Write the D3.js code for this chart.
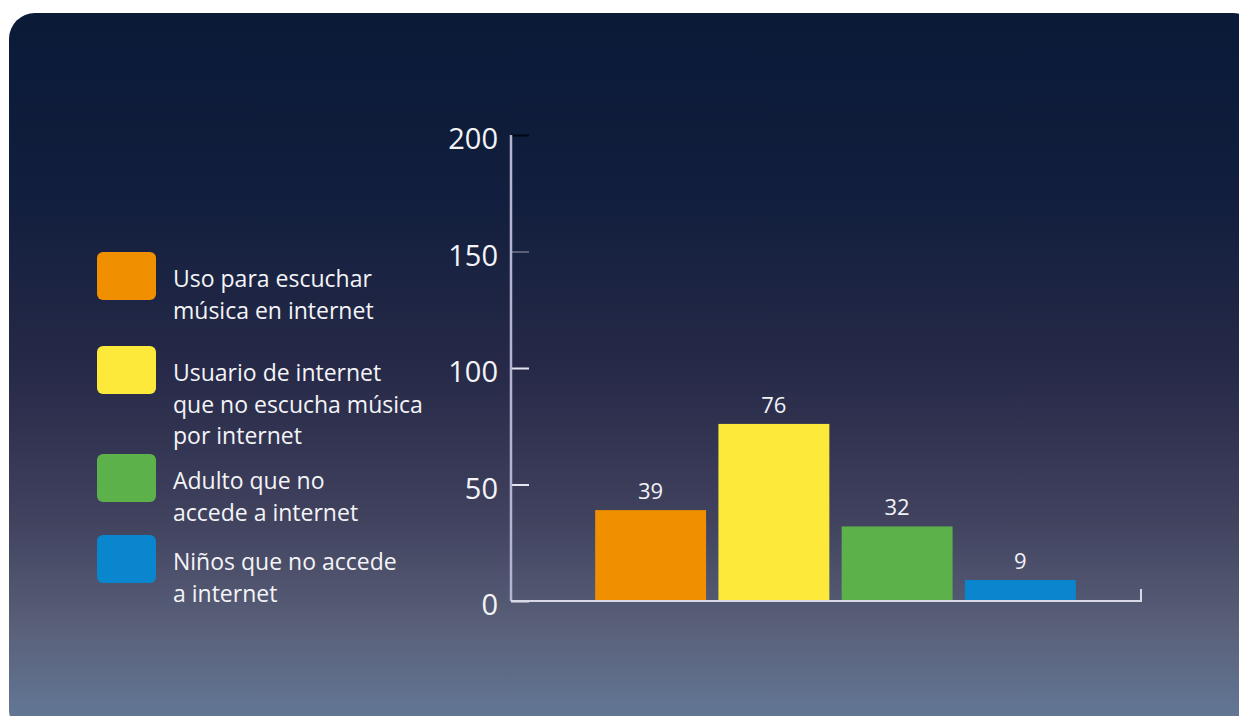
<!DOCTYPE html>
<html><head><meta charset="utf-8">
<script src="https://cdn.jsdelivr.net/npm/d3@7"></script>
<style>
html,body{margin:0;padding:0;background:#fff;}
svg{display:block;}
text{font-family:"Open Sans","Noto Sans",sans-serif;}
</style></head>
<body>
<svg id="chart" width="1239" height="716"></svg>
<script>
const categories = ["Uso para escuchar música en internet","Usuario de internet que no escucha música por internet","Adulto que no accede a internet","Niños que no accede a internet"];
const values = [39, 76, 32, 9];
const colors = ["#f09000","#fde93a","#5db14a","#0a86cf"];
const legendLines = [["Uso para escuchar","música en internet"],["Usuario de internet","que no escucha música","por internet"],["Adulto que no","accede a internet"],["Niños que no accede","a internet"]];
const yTicks = [0,50,100,150,200];

const svg = d3.select("#chart");
const defs = svg.append("defs");
const g = defs.append("linearGradient").attr("id","bg").attr("x1",0).attr("y1",0).attr("x2",0).attr("y2",1);
[[0,"#0a1a37"],[0.25,"#111e3d"],[0.5,"#272a48"],[0.7,"#40425e"],[0.85,"#5a6079"],[1,"#647c9b"]].forEach(s=>g.append("stop").attr("offset",s[0]).attr("stop-color",s[1]));

// panel with rounded left corners
const px=9, py=13, pw=1239-9+20, ph=716-13+20, r=26;
svg.append("rect").attr("x",px).attr("y",py).attr("width",pw).attr("height",ph).attr("rx",r).attr("fill","url(#bg)");

const x0=511, x1=1141, yTop=135, yBot=601;
const y = d3.scaleLinear().domain([0,200]).range([yBot,yTop]);
const x = d3.scaleBand().domain(categories).range([589,1082]).paddingInner(0.1).paddingOuter(0.05);

// bars
svg.selectAll(".bar").data(values).enter().append("rect")
  .attr("x",(d,i)=>x(categories[i])).attr("y",d=>y(d))
  .attr("width",x.bandwidth()).attr("height",d=>yBot-y(d))
  .attr("fill",(d,i)=>colors[i]);

svg.selectAll(".lbl").data(values).enter().append("text")
  .attr("x",(d,i)=>x(categories[i])+x.bandwidth()/2).attr("y",d=>y(d)-11)
  .attr("text-anchor","middle").attr("fill","#f2f2f7").attr("font-size",22).text(d=>d);

// y axis
const yAxis = d3.axisRight(y).tickValues(yTicks).tickSize(18).tickFormat("");
const ya = svg.append("g").attr("transform",`translate(${x0},0)`).call(yAxis);
ya.select(".domain").remove();
ya.selectAll(".tick line").attr("stroke",d=>d===200?"#000814":(d===150?"#5a6078":"#e6e6f0")).attr("stroke-width",2);
svg.append("line").attr("x1",x0).attr("x2",x0).attr("y1",yTop).attr("y2",yBot).attr("stroke","#b4b4d2").attr("stroke-width",2.5);
svg.selectAll(".ytl").data(yTicks).enter().append("text")
  .attr("x",498).attr("y",d=>y(d)+14).attr("text-anchor","end")
  .attr("fill","#f4f4f8").attr("font-size",29).text(d=>d);

// x axis
svg.append("line").attr("x1",x0).attr("x2",x1+1).attr("y1",yBot).attr("y2",yBot).attr("stroke","#d8d8e8").attr("stroke-width",2);
svg.append("line").attr("x1",x1).attr("x2",x1).attr("y1",yBot).attr("y2",yBot-12).attr("stroke","#d8d8e8").attr("stroke-width",2);

// legend
const swY=[252,346,454,535];
const lg = svg.selectAll(".leg").data(legendLines).enter().append("g");
lg.append("rect").attr("x",97).attr("y",(d,i)=>swY[i]).attr("width",59).attr("height",48).attr("rx",6).attr("fill",(d,i)=>colors[i]);
lg.append("text").attr("x",173).attr("y",(d,i)=>swY[i]+35).attr("fill","#f4f4f8").attr("font-size",23)
  .selectAll("tspan").data(d=>d).enter().append("tspan").attr("x",173).attr("dy",(d,j)=>j===0?0:31.5).text(d=>d);
</script>
</body></html>
